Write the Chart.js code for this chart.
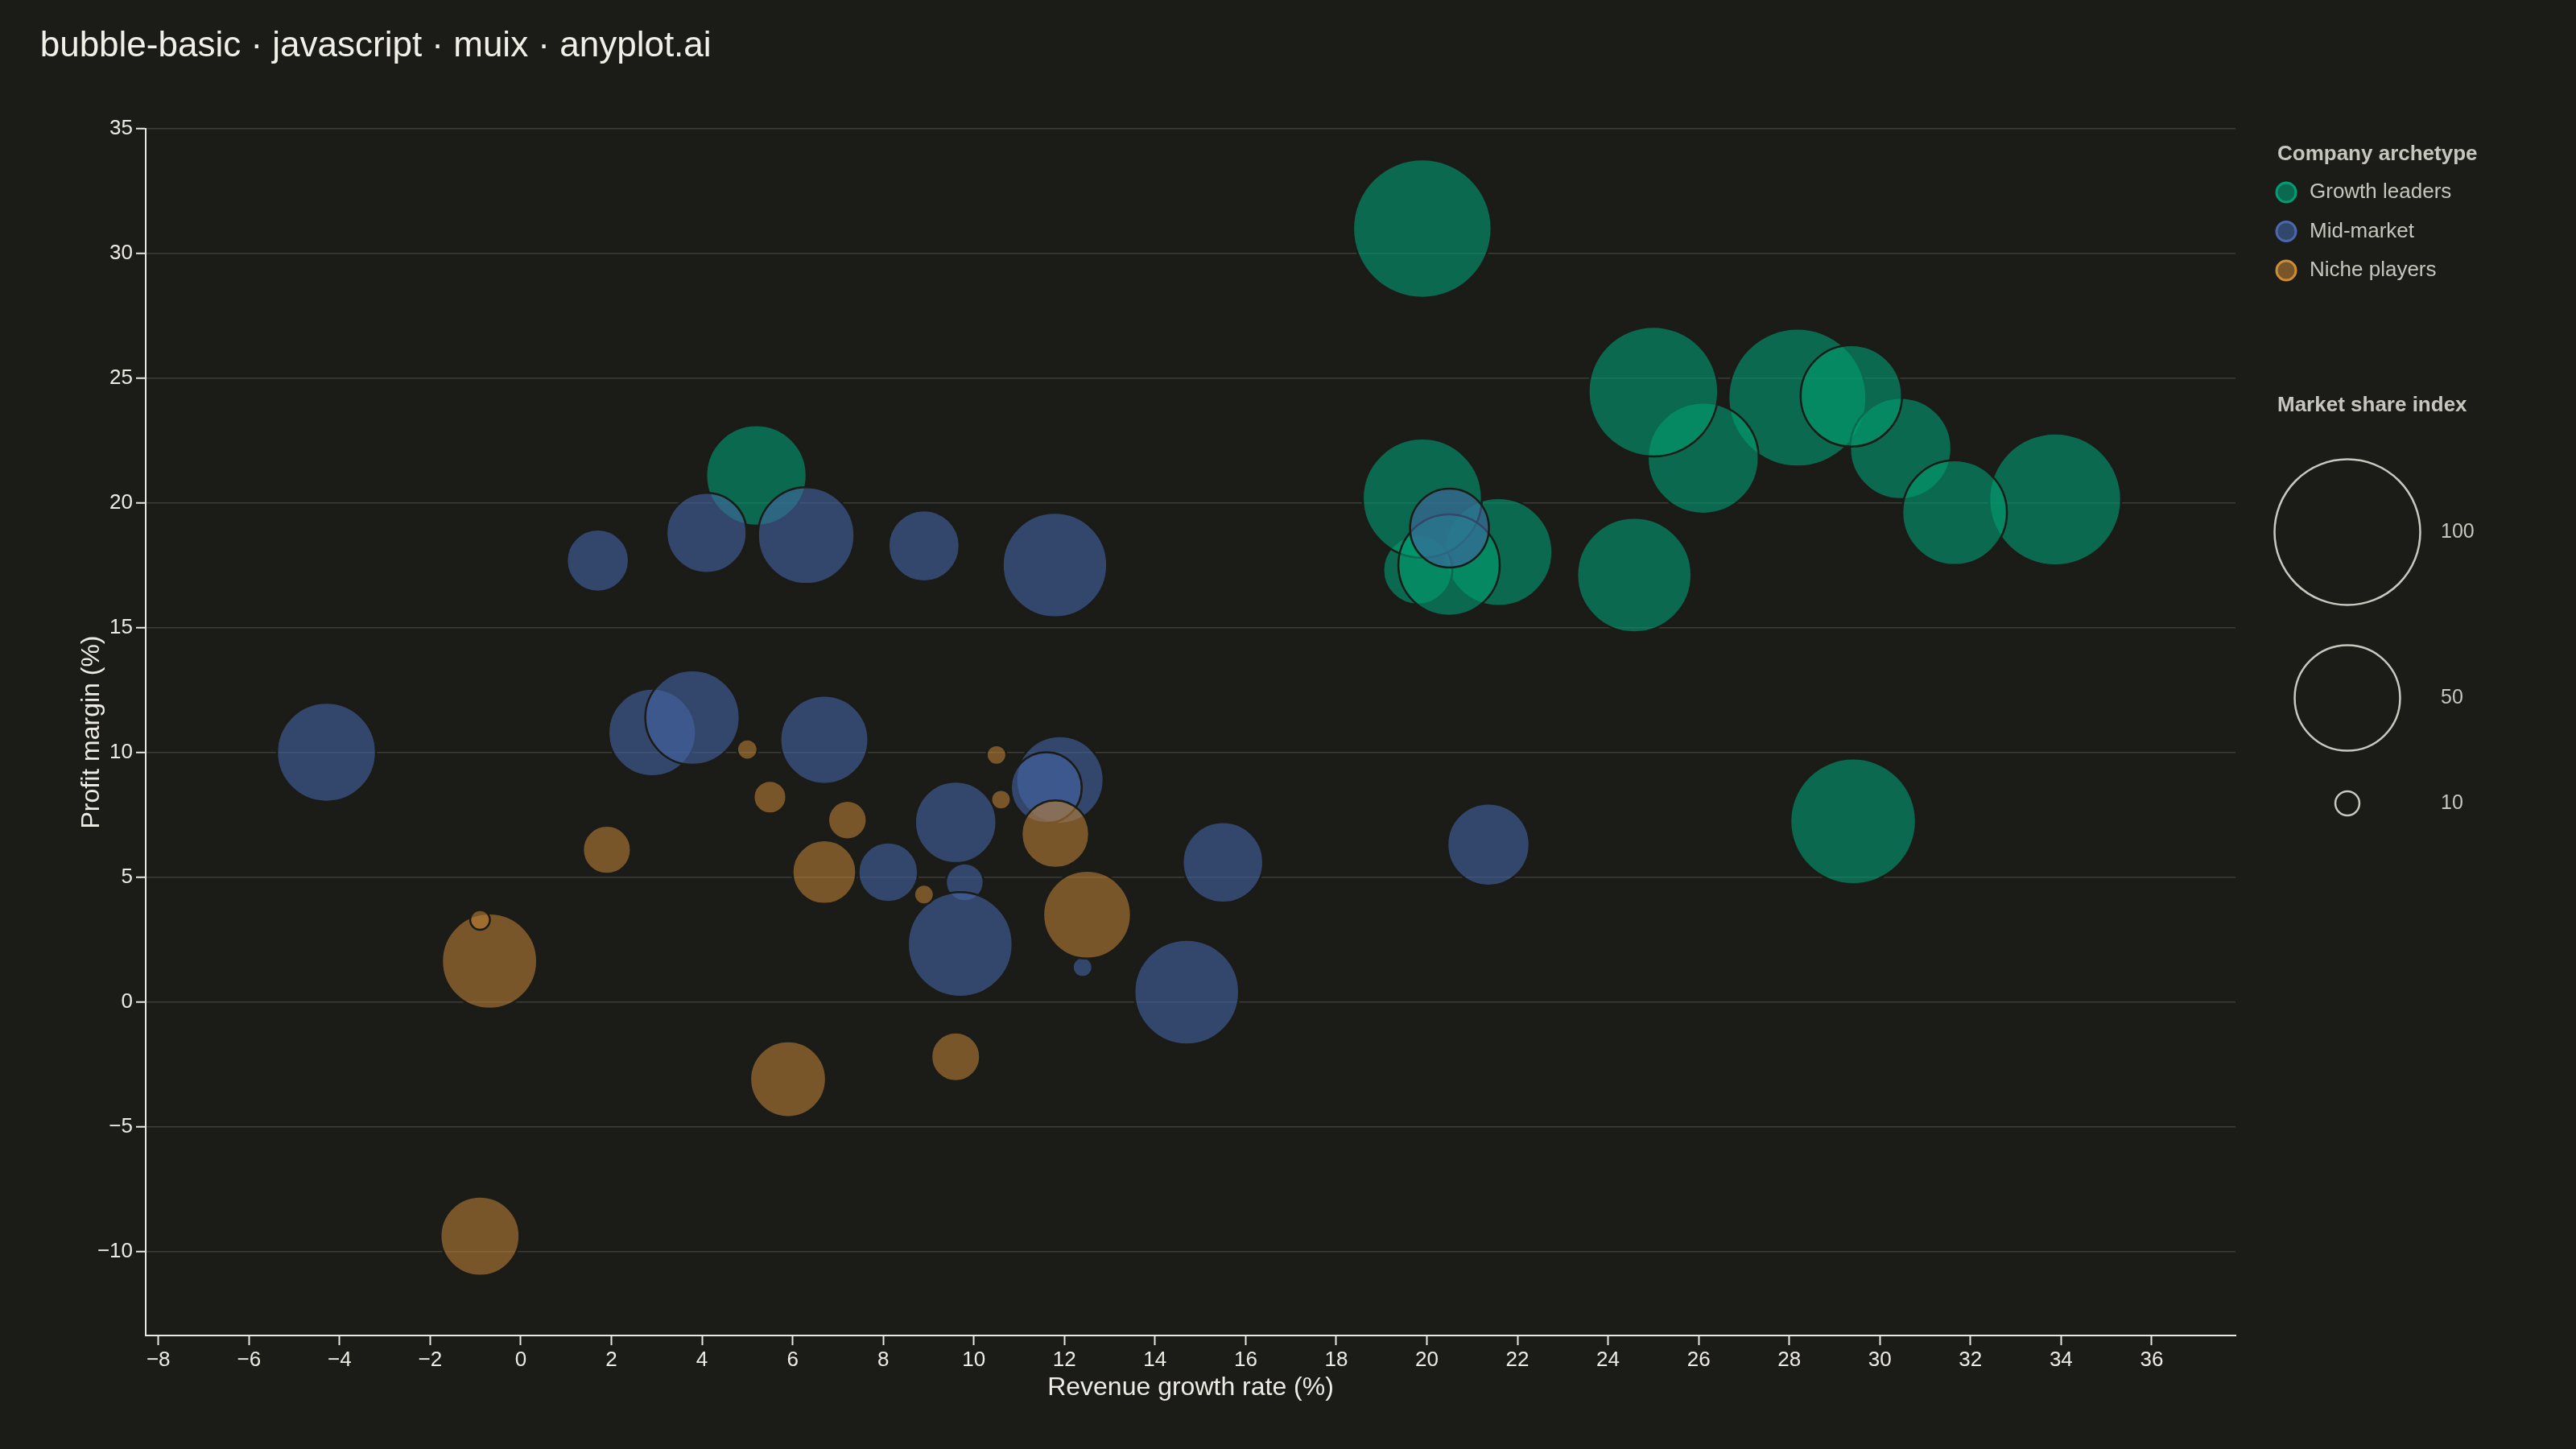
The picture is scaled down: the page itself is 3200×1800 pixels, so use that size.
<!DOCTYPE html>
<html>
<head>
<meta charset="utf-8">
<title>bubble-basic</title>
<script src="https://cdn.jsdelivr.net/npm/chart.js@4.4.1/dist/chart.umd.min.js"></script>
<style>
  html, body { margin: 0; padding: 0; background: #1b1b17; }
  canvas { display: block; }
</style>
</head>
<body>
<canvas id="bubble-chart" width="3200" height="1800"></canvas>
<script>
// Growth leaders
let growthX = [5.2, 24.58, 29.41, 19.9, 21.58, 19.8, 19.9, 20.49, 28.18, 26.1, 25.0, 33.87, 30.46, 29.37, 31.65];
let growthY = [21.11, 17.12, 7.25, 31.0, 18.04, 17.32, 20.2, 17.52, 24.23, 21.8, 24.47, 20.15, 22.19, 24.3, 19.62];
let growthShare = [46.7, 56.3, 64.7, 75.0, 51.7, 28.4, 59.8, 47.3, 74.6, 53.9, 67.8, 69.7, 47.3, 47.3, 49.5];

// Mid-market
let midX = [-4.29, 1.7, 4.1, 6.3, 8.9, 11.79, 2.9, 3.79, 6.7, 11.9, 11.6, 9.6, 8.11, 9.8, 9.7, 12.4, 14.7, 15.5, 21.36, 20.5];
let midY = [10.02, 17.7, 18.81, 18.7, 18.29, 17.52, 10.81, 11.41, 10.52, 8.91, 8.6, 7.21, 5.21, 4.81, 2.32, 1.41, 0.41, 5.61, 6.32, 19.0];
let midShare = [45.7, 24.9, 34.3, 44.2, 29.4, 49.4, 38.6, 42.8, 38.9, 38.5, 29.3, 35.0, 23.7, 14.6, 49.5, 8.7, 49.5, 34.5, 35.4, 33.6];

// Niche players
let nicheX = [-0.9, -0.69, -0.9, 1.9, 5.0, 5.5, 7.21, 6.7, 8.9, 10.5, 10.6, 11.8, 12.5, 5.9, 9.6];
let nicheY = [-9.37, 1.65, 3.3, 6.11, 10.13, 8.22, 7.3, 5.22, 4.32, 9.91, 8.12, 6.74, 3.51, -3.08, -2.18];
let nicheShare = [33.7, 43.3, 8.7, 18.6, 8.9, 12.8, 14.9, 25.7, 8.7, 8.7, 8.7, 27.6, 38.7, 31.9, 18.9];

let archetypeLabels = ["Growth leaders", "Mid-market", "Niche players"];
let sizeLegendValues = [100, 50, 10];

let colors = {
  bg: "#1b1b17",
  grid: "rgba(255, 255, 255, 0.15)",
  axis: "#e8e8e0",
  text: "#ecece4",
  legend: "#c6c6be",
  green: "rgb(0, 158, 115)",
  greenFill: "rgba(0, 158, 115, 0.6)",
  blue: "rgb(72, 106, 172)",
  blueFill: "rgba(68, 100, 163, 0.6)",
  orange: "rgb(205, 140, 55)",
  orangeFill: "rgba(185, 127, 53, 0.6)",
};

let fontFamily = "'Liberation Sans', Arial, Helvetica, sans-serif";

// market share index -> bubble radius (px)
function shareToRadius(v) {
  return Math.min(90.5, 12.92 * Math.sqrt(v) - 25.9);
}

function toPoints(xs, ys, shares) {
  return xs.map((x, i) => ({ x: x, y: ys[i], r: shareToRadius(shares[i]) }));
}

function minusSign(value) {
  return String(value).replace("-", "\u2212");
}

let rightLegendPlugin = {
  id: "rightLegend",
  afterDraw(chart) {
    let ctx = chart.ctx;
    ctx.save();
    ctx.textBaseline = "middle";
    ctx.textAlign = "left";

    ctx.fillStyle = colors.legend;
    ctx.font = "bold 26px " + fontFamily;
    ctx.fillText("Company archetype", 2829, 192);

    let swatches = [
      [colors.greenFill, colors.green],
      [colors.blueFill, colors.blue],
      [colors.orangeFill, colors.orange],
    ];
    ctx.font = "26px " + fontFamily;
    archetypeLabels.forEach((label, i) => {
      let cy = 239 + i * 48.5;
      ctx.beginPath();
      ctx.arc(2840, cy, 12, 0, Math.PI * 2);
      ctx.fillStyle = swatches[i][0];
      ctx.fill();
      ctx.lineWidth = 3;
      ctx.strokeStyle = swatches[i][1];
      ctx.stroke();
      ctx.fillStyle = colors.legend;
      ctx.fillText(label, 2869, cy);
    });

    ctx.font = "bold 26px " + fontFamily;
    ctx.fillText("Market share index", 2829, 504);

    let sizeY = [661, 867, 998];
    ctx.font = "25px " + fontFamily;
    sizeLegendValues.forEach((v, i) => {
      ctx.beginPath();
      ctx.arc(2916, sizeY[i], shareToRadius(v), 0, Math.PI * 2);
      ctx.lineWidth = 2.5;
      ctx.strokeStyle = "#c8c8c0";
      ctx.stroke();
      ctx.fillStyle = colors.legend;
      ctx.fillText(String(v), 3032, sizeY[i]);
    });
    ctx.restore();
  },
};

let bubbleChart = new Chart("bubble-chart", {
  type: "bubble",
  data: {
    datasets: [
      {
        label: archetypeLabels[0],
        data: toPoints(growthX, growthY, growthShare),
        backgroundColor: colors.greenFill,
        borderColor: colors.bg,
        borderWidth: 2.5,
        order: 3,
      },
      {
        label: archetypeLabels[1],
        data: toPoints(midX, midY, midShare),
        backgroundColor: colors.blueFill,
        borderColor: colors.bg,
        borderWidth: 2.5,
        order: 2,
      },
      {
        label: archetypeLabels[2],
        data: toPoints(nicheX, nicheY, nicheShare),
        backgroundColor: colors.orangeFill,
        borderColor: colors.bg,
        borderWidth: 2.5,
        order: 1,
      },
    ],
  },
  plugins: [rightLegendPlugin],
  options: {
    responsive: false,
    devicePixelRatio: 1,
    animation: false,
    layout: {
      autoPadding: false,
      padding: { left: 49.7, right: 423, top: 0, bottom: 0 },
    },
    plugins: {
      legend: { display: false },
      tooltip: { enabled: false },
      title: {
        display: true,
        text: "bubble-basic \u00b7 javascript \u00b7 muix \u00b7 anyplot.ai",
        align: "start",
        color: "#f0f0e8",
        font: { family: fontFamily, size: 44, weight: "normal" },
        padding: { top: 31.6, bottom: 75.6 },
      },
    },
    scales: {
      x: {
        type: "linear",
        min: -8.28,
        max: 37.85,
        afterFit: (scale) => {
          scale.height = 141;
        },
        border: { display: true, color: colors.axis, width: 2 },
        grid: {
          drawOnChartArea: false,
          drawTicks: true,
          tickLength: 12,
          tickColor: colors.axis,
          tickWidth: 2,
        },
        ticks: {
          stepSize: 2,
          includeBounds: false,
          autoSkip: false,
          maxRotation: 0,
          color: colors.text,
          padding: 3,
          font: { family: fontFamily, size: 26 },
          callback: (value) => minusSign(value),
        },
        title: {
          display: true,
          text: "Revenue growth rate (%)",
          color: colors.text,
          font: { family: fontFamily, size: 32 },
          padding: { top: 0, bottom: 56.8 },
        },
      },
      y: {
        type: "linear",
        min: -13.35,
        max: 35,
        afterFit: (scale) => {
          scale.width = 181 - 49.7;
        },
        border: { display: true, color: colors.axis, width: 2 },
        grid: {
          color: colors.grid,
          lineWidth: 1.5,
          drawTicks: true,
          tickLength: 12,
          tickColor: colors.axis,
          tickWidth: 2,
        },
        ticks: {
          stepSize: 5,
          includeBounds: false,
          color: colors.text,
          padding: 4,
          font: { family: fontFamily, size: 26 },
          callback: (value) => minusSign(value),
        },
        title: {
          display: true,
          text: "Profit margin (%)",
          color: colors.text,
          font: { family: fontFamily, size: 32 },
          padding: { top: 45, bottom: 0 },
        },
      },
    },
  },
});
</script>
</body>
</html>
